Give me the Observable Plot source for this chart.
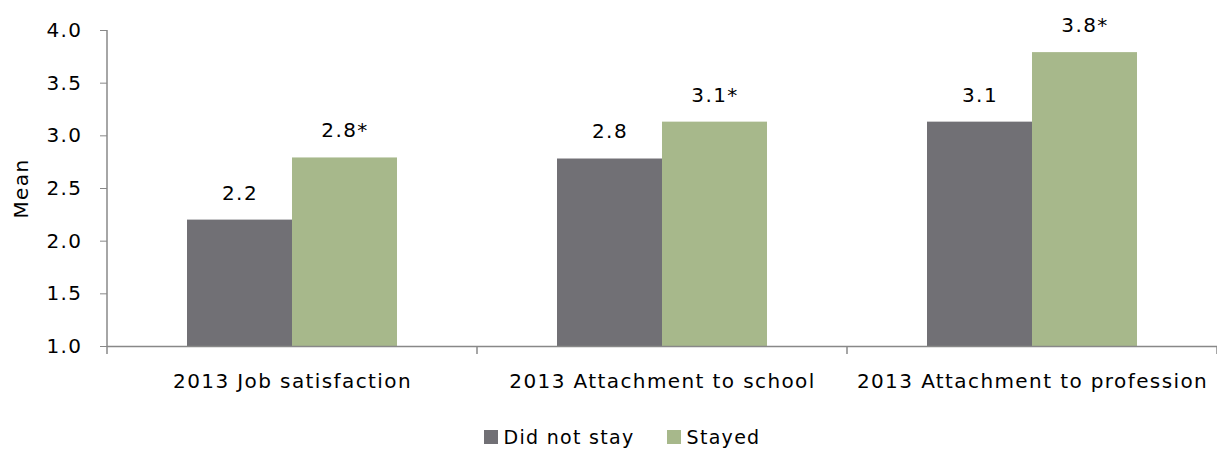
<!DOCTYPE html>
<html>
<head>
<meta charset="utf-8">
<script src="https://cdn.jsdelivr.net/npm/d3@7"></script>
<script src="https://cdn.jsdelivr.net/npm/@observablehq/plot@0.6"></script>
<style>
  body { margin: 0; background: #fff; font-family: "DejaVu Sans", sans-serif; }
  #chart svg text { letter-spacing: 1.4px; }
  .lg-swatches-wrap { justify-content: center; letter-spacing: 1.3px; min-height: 30px; margin-top: 10px; padding-left: 27px; }
  .lg-swatch { margin-right: 32px !important; }
  .lg-swatch:last-child { margin-right: 0 !important; }
  .lg-swatch svg { margin-right: 6px !important; }
</style>
</head>
<body>
<div id="chart"></div>
<script>
const categories = ["2013 Job satisfaction", "2013 Attachment to school", "2013 Attachment to profession"];
const seriesNames = ["Did not stay", "Stayed"];
const didNotStay = [2.2, 2.78, 3.13];
const stayed = [2.79, 3.13, 3.79];
const didNotStayLabels = ["2.2", "2.8", "3.1"];
const stayedLabels = ["2.8*", "3.1*", "3.8*"];
const yTicks = [1.0, 1.5, 2.0, 2.5, 3.0, 3.5, 4.0];
const colors = ["#717075", "#a7b88b"];
const axisGray = "#888888";

const data = categories.flatMap((c, i) => [
  {category: c, series: seriesNames[0], value: didNotStay[i], label: didNotStayLabels[i]},
  {category: c, series: seriesNames[1], value: stayed[i], label: stayedLabels[i]}
]);

const chart = Plot.plot({
  width: 1217,
  height: 412,
  marginTop: 30,
  marginBottom: 66,
  marginLeft: 106,
  marginRight: 0,
  style: {fontFamily: "'DejaVu Sans', sans-serif", fontSize: "20px", color: "#000", background: "#fff"},
  fx: {domain: categories, padding: 0, label: null, axis: null},
  x: {domain: seriesNames, paddingInner: 0, paddingOuter: 0.76, axis: null},
  y: {domain: [yTicks[0], yTicks[yTicks.length - 1]]},
  color: {domain: seriesNames, range: colors},
  marks: [
    Plot.barY(data, {fx: "category", x: "series", y1: yTicks[0], y2: "value", fill: "series"}),
    Plot.ruleY([yTicks[0]], {stroke: axisGray, strokeWidth: 1.5}),
    Plot.text(data, {fx: "category", x: "series", y: "value", text: "label", dy: -27, fontSize: 20, fill: "#000"}),
    Plot.axisY({ticks: yTicks, tickFormat: d3.format(".1f"), tickSize: 7, tickPadding: 18, stroke: axisGray, fill: "#000", fontSize: 20,
      label: "Mean", labelAnchor: "center", labelOffset: 94, labelArrow: "none"}),
    Plot.axisFx({anchor: "bottom", tickSize: 0, tickPadding: 27, label: null, fontSize: 20, fill: "#000"})
  ]
});

// axis lines using the plot's own scales
const fxS = chart.scale("fx");
const yS = chart.scale("y");
const svg = d3.select(chart);
const g = svg.append("g").attr("stroke", axisGray).attr("stroke-width", 1.5);
const x0 = fxS.apply(categories[0]);
g.append("line").attr("x1", x0).attr("x2", x0).attr("y1", yS.apply(yTicks[yTicks.length - 1])).attr("y2", yS.apply(yTicks[0]) + 8);
const bounds = categories.map(c => fxS.apply(c)).concat([fxS.apply(categories[categories.length - 1]) + fxS.bandwidth]);
bounds.slice(1).forEach(b => {
  g.append("line").attr("x1", b).attr("x2", b).attr("y1", yS.apply(yTicks[0])).attr("y2", yS.apply(yTicks[0]) + 8);
});

document.getElementById("chart").appendChild(chart);
const legend = Plot.legend({
  color: {domain: seriesNames, range: colors},
  legend: "swatches", swatchSize: 14, className: "lg",
  style: {fontFamily: "'DejaVu Sans', sans-serif", fontSize: "19px", color: "#000"}
});
document.getElementById("chart").appendChild(legend);
</script>
</body>
</html>
